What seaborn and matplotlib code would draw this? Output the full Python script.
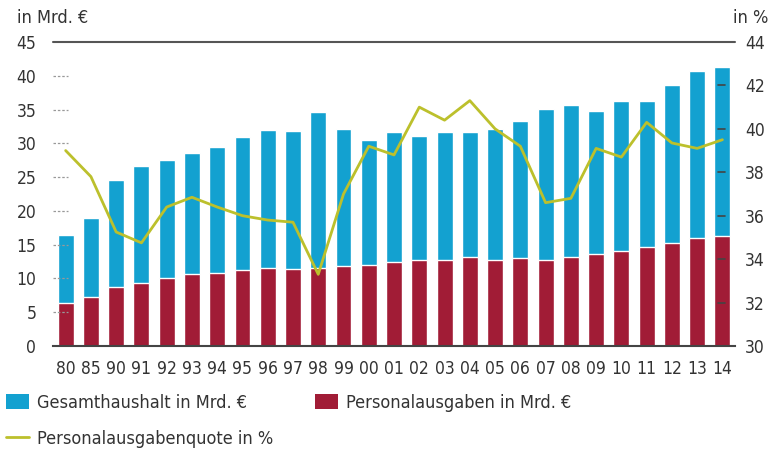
import numpy as np
import pandas as pd
import seaborn as sns
import matplotlib.pyplot as plt
from matplotlib import font_manager as fm
from matplotlib.patches import Patch
from matplotlib.lines import Line2D

# Values
years = ['80', '85', '90', '91', '92', '93', '94', '95', '96', '97', '98', '99',
         '00', '01', '02', '03', '04', '05', '06', '07', '08', '09', '10', '11',
         '12', '13', '14']
gesamthaushalt = [16.4, 18.9, 24.5, 26.6, 27.6, 28.6, 29.5, 30.9, 32.0, 31.8, 34.6, 32.1,
                  30.5, 31.7, 31.1, 31.7, 31.7, 32.1, 33.3, 35.1, 35.6, 34.8, 36.3, 36.3,
                  38.6, 40.7, 41.3]
personalausgaben = [6.4, 7.2, 8.7, 9.3, 10.1, 10.6, 10.8, 11.2, 11.5, 11.4, 11.5, 11.8,
                    12.0, 12.4, 12.8, 12.8, 13.1, 12.8, 13.0, 12.8, 13.1, 13.6, 14.0, 14.6,
                    15.2, 16.0, 16.3]
quote = [39.0, 37.8, 35.25, 34.75, 36.4, 36.85, 36.4, 36.0, 35.8, 35.7, 33.3, 37.0,
         39.2, 38.8, 41.0, 40.4, 41.3, 40.0, 39.2, 36.6, 36.8, 39.1, 38.7, 40.3,
         39.35, 39.1, 39.5]

left_ticks = [0, 5, 10, 15, 20, 25, 30, 35, 40, 45]
right_ticks = [30, 32, 34, 36, 38, 40, 42, 44]

blue = '#13a1d0'
red = '#a11c36'
olive = '#bcc02c'
text_col = '#333333'

df = pd.DataFrame({'Jahr': years, 'Gesamt': gesamthaushalt,
                   'Personal': personalausgaben, 'Quote': quote})

sns.set_style('white')

# the original uses a condensed face; pick one if the system has it
names = {f.name for f in fm.fontManager.ttflist}
if 'Liberation Sans Narrow' in names:
    plt.rcParams['font.family'] = ['Liberation Sans Narrow', 'DejaVu Sans']
else:
    import glob
    cond = glob.glob('/usr/share/fonts/**/DejaVuSansCondensed.ttf', recursive=True)
    for p in cond:
        fm.fontManager.addfont(p)
    plt.rcParams['font.family'] = ['DejaVu Sans']
    plt.rcParams['font.stretch'] = 'condensed'

fig = plt.figure(figsize=(7.73, 4.57), dpi=100)
ax = fig.add_axes([0.0686, 0.2429, 0.8823, 0.6652])

# Stacked look: total in blue, personnel part drawn over it in red
sns.barplot(data=df, x='Jahr', y='Gesamt', order=years, color=blue,
            width=0.63, saturation=1, ax=ax)
sns.barplot(data=df, x='Jahr', y='Personal', order=years, color=red,
            width=0.63, saturation=1, ax=ax)

ax.set_xlim(-0.5, len(years) - 0.5)
ax.set_ylim(0, 45)
ax.set_yticks(left_ticks)
ax.set_xlabel('')
ax.set_ylabel('')
for s in ['left', 'right', 'top']:
    ax.spines[s].set_visible(False)
ax.spines['bottom'].set_color('#444444')
ax.spines['bottom'].set_linewidth(1.5)

ax.tick_params(axis='y', length=0, pad=12, labelsize=12.5, labelcolor=text_col)
ax.tick_params(axis='x', which='major', length=0, pad=10, labelsize=12.5, labelcolor=text_col)
ax.set_xticks(np.arange(len(years) + 1) - 0.5, minor=True)
ax.tick_params(axis='x', which='minor', length=9, width=1.2, color='#555555', direction='out')

# line at 45 and short dashed stubs at the other gridlines
ax.axhline(45, color='#555555', lw=1.5, clip_on=False)
for v in left_ticks[1:-1]:
    ax.axhline(v, xmin=0, xmax=0.022, color='#999999', lw=0.9, ls=(0, (2, 1.5)))

ax2 = ax.twinx()
sns.lineplot(x=np.arange(len(years)), y=df['Quote'], color=olive, lw=2.0, ax=ax2)
ax2.set_ylim(30, 44)
ax2.set_yticks(right_ticks)
ax2.set_ylabel('')
for s in ['left', 'right', 'top', 'bottom']:
    ax2.spines[s].set_visible(False)
ax2.tick_params(axis='y', length=0, pad=7, labelsize=12.5, labelcolor=text_col)
for v in right_ticks[1:-1]:
    ax2.axhline(v, xmin=0.975, xmax=0.986, color='#444444', lw=1.2, zorder=0.5)

fig.text(0.022, 0.961, 'in Mrd. €', fontsize=13, color=text_col, va='center', ha='left')
fig.text(0.994, 0.961, 'in %', fontsize=13, color=text_col, va='center', ha='right')

handles = [Patch(facecolor=blue, edgecolor='none'),
           Line2D([0], [0], color=olive, lw=2.0),
           Patch(facecolor=red, edgecolor='none')]
labels = ['Gesamthaushalt in Mrd. €', 'Personalausgabenquote in %',
          'Personalausgaben in Mrd. €']
fig.legend(handles, labels, loc='upper left', bbox_to_anchor=(0.008, 0.138),
           ncol=2, frameon=False, fontsize=13, labelcolor=text_col,
           handlelength=1.27, handleheight=0.9, handletextpad=0.45,
           columnspacing=2.3, labelspacing=1.0, borderaxespad=0.0, borderpad=0.0)

fig.savefig('out.png', dpi=100)
